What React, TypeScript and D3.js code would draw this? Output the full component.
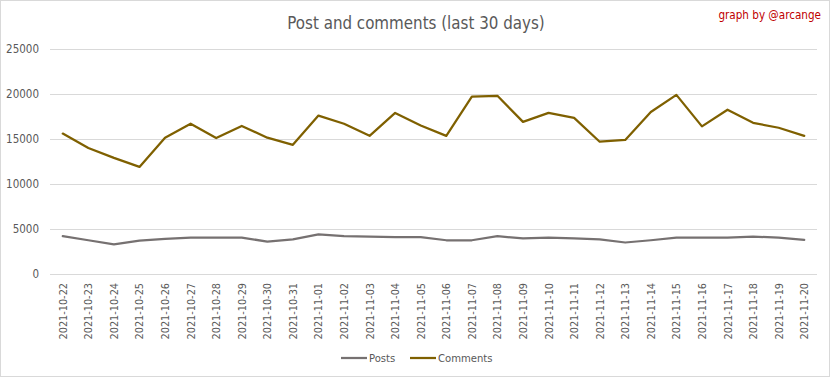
import React from "react";
import * as d3 from "d3";

const dates = [
  "2021-10-22","2021-10-23","2021-10-24","2021-10-25","2021-10-26","2021-10-27","2021-10-28","2021-10-29","2021-10-30","2021-10-31",
  "2021-11-01","2021-11-02","2021-11-03","2021-11-04","2021-11-05","2021-11-06","2021-11-07","2021-11-08","2021-11-09","2021-11-10",
  "2021-11-11","2021-11-12","2021-11-13","2021-11-14","2021-11-15","2021-11-16","2021-11-17","2021-11-18","2021-11-19","2021-11-20",
];
const posts = [
  4200, 3750, 3300, 3700, 3900, 4050, 4050, 4050, 3600, 3850,
  4400, 4200, 4150, 4100, 4100, 3750, 3750, 4200, 3950, 4050,
  3950, 3850, 3500, 3750, 4050, 4050, 4050, 4150, 4050, 3800,
];
const comments = [
  15600, 14000, 12900, 11900, 15150, 16700, 15100, 16450, 15150, 14350,
  17600, 16700, 15350, 17900, 16500, 15350, 19700, 19800, 16900, 17900,
  17350, 14700, 14900, 18000, 19900, 16400, 18250, 16800, 16250, 15350,
];
const yTicks = [0, 5000, 10000, 15000, 20000, 25000];
const title = "Post and comments (last 30 days)";
const credit = "graph by @arcange";
const seriesNames = ["Posts", "Comments"];
const seriesColors = ["#767171", "#7F6000"];

const W = 832, H = 378;
const FONT = "'DejaVu Sans Condensed', 'Liberation Sans Narrow', sans-serif";

export default function App() {
  const plotL = 50, plotR = 817, plotT = 49, plotB = 274;
  const x = d3.scaleBand<string>().domain(dates).range([plotL, plotR]);
  const y = d3.scaleLinear().domain([0, 25000]).range([plotB, plotT]);
  const cx = (d: string) => (x(d) as number) + x.bandwidth() / 2;
  const line = d3.line<number>().x((_, i) => cx(dates[i])).y((v) => y(v));
  const series = [posts, comments];

  return (
    <svg width={W} height={H} style={{ position: "absolute", left: 0, top: 0, background: "#fff" }} fontFamily={FONT}>
      <rect x={0.5} y={0.5} width={829} height={376} fill="#fff" stroke="#D9D9D9" />
      <text x={416} y={29} textAnchor="middle" fontSize={16.8} fill="#595959">{title}</text>
      <text x={821} y={19} textAnchor="end" fontSize={11.6} fill="#C00000">{credit}</text>
      {yTicks.map((t) => (
        <g key={t}>
          <line x1={plotL} x2={plotR} y1={Math.round(y(t)) + 0.5} y2={Math.round(y(t)) + 0.5} stroke="#D9D9D9" />
          <text x={39} y={y(t) + 4} textAnchor="end" fontSize={11.5} fill="#595959">{t}</text>
        </g>
      ))}
      {dates.map((d) => (
        <text key={d} transform={`translate(${cx(d) + 4},${plotB + 9}) rotate(-90)`} textAnchor="end" fontSize={10.8} fill="#595959">{d}</text>
      ))}
      {series.map((s, i) => (
        <path key={i} d={line(s) as string} fill="none" stroke={seriesColors[i]} strokeWidth={2.25} strokeLinejoin="round" strokeLinecap="round" />
      ))}
      {seriesNames.map((n, i) => {
        const lx = [341, 410][i];
        return (
          <g key={n}>
            <line x1={lx} x2={lx + 26} y1={358} y2={358} stroke={seriesColors[i]} strokeWidth={2.25} />
            <text x={lx + 28} y={362} fontSize={11.2} fill="#595959">{n}</text>
          </g>
        );
      })}
    </svg>
  );
}
